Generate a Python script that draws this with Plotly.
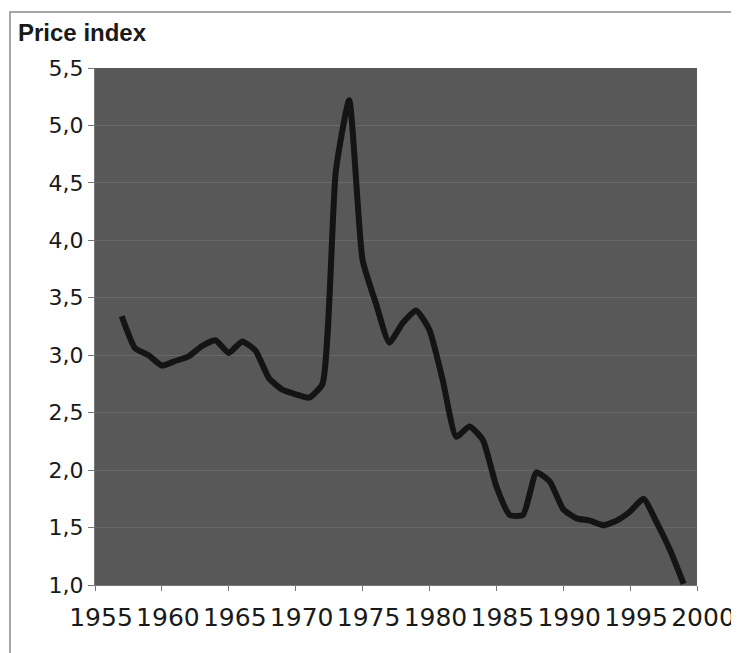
import plotly.graph_objects as go

years = list(range(1957, 2000))
price_index = [3.34, 3.06, 3.00, 2.91, 2.95, 2.99, 3.08, 3.13, 3.02, 3.12, 3.04,
               2.80, 2.70, 2.66, 2.63, 2.75, 4.60, 5.22, 3.83, 3.45, 3.11, 3.28,
               3.39, 3.22, 2.78, 2.29, 2.38, 2.26, 1.86, 1.61, 1.61, 1.98, 1.90,
               1.66, 1.58, 1.56, 1.52, 1.56, 1.64, 1.75, 1.54, 1.30, 1.01]

x_ticks = [1955, 1960, 1965, 1970, 1975, 1980, 1985, 1990, 1995, 2000]
y_ticks = [1.0, 1.5, 2.0, 2.5, 3.0, 3.5, 4.0, 4.5, 5.0, 5.5]
title_text = "Price index"

OFF = 8  # default page body margin
W, H = 739, 653
L, T = 95 - OFF, 68 - OFF
pw, ph = 602, 517
R = W - L - pw
B = H - T - ph

fig = go.Figure()
fig.add_trace(go.Scatter(
    x=years, y=price_index, mode="lines",
    line=dict(color="#141414", width=6, shape="spline", smoothing=0.5),
    showlegend=False, hoverinfo="skip",
))

def px_x(p):
    return (p - OFF - L) / pw

def px_y(p):
    return (T + ph - (p - OFF)) / ph

fig.update_layout(
    width=W, height=H,
    margin=dict(l=L, r=R, t=T, b=B),
    paper_bgcolor="white",
    plot_bgcolor="#585858",
    separators=",.",
    font=dict(family="Liberation Sans, Arial, sans-serif", color="#1a1a1a"),
    xaxis=dict(
        range=[1955, 2000], tickvals=x_ticks, ticktext=[str(v) for v in x_ticks],
        ticks="outside", ticklen=5, tickcolor="#777", showgrid=False,
        zeroline=False, showline=True, linecolor="#777", linewidth=1,
        tickfont=dict(size=25, family="DejaVu Sans, sans-serif"), ticklabelshift=6,
        ticklabelstandoff=5, tickangle=0, automargin=False,
    ),
    yaxis=dict(
        range=[1.0, 5.5], tickvals=y_ticks, tickformat=".1f",
        ticks="outside", ticklen=6, tickcolor="#777",
        showgrid=True, gridcolor="rgba(215,215,215,0.14)", gridwidth=1,
        zeroline=False, showline=True, linecolor="#777", linewidth=1,
        tickfont=dict(size=22, family="DejaVu Sans, sans-serif"), automargin=False,
    ),
    shapes=[dict(
        type="rect", xref="paper", yref="paper",
        x0=px_x(10), x1=px_x(780), y0=px_y(12), y1=px_y(700),
        line=dict(color="#8a8a8a", width=1.5), fillcolor="rgba(0,0,0,0)",
        layer="below",
    )],
    annotations=[dict(
        text="<b>" + title_text + "</b>", xref="paper", yref="paper",
        x=px_x(16), y=px_y(33), xanchor="left", yanchor="middle",
        showarrow=False, font=dict(size=24, color="#1a1a1a"),
    )],
)

fig.write_html("out.html")
